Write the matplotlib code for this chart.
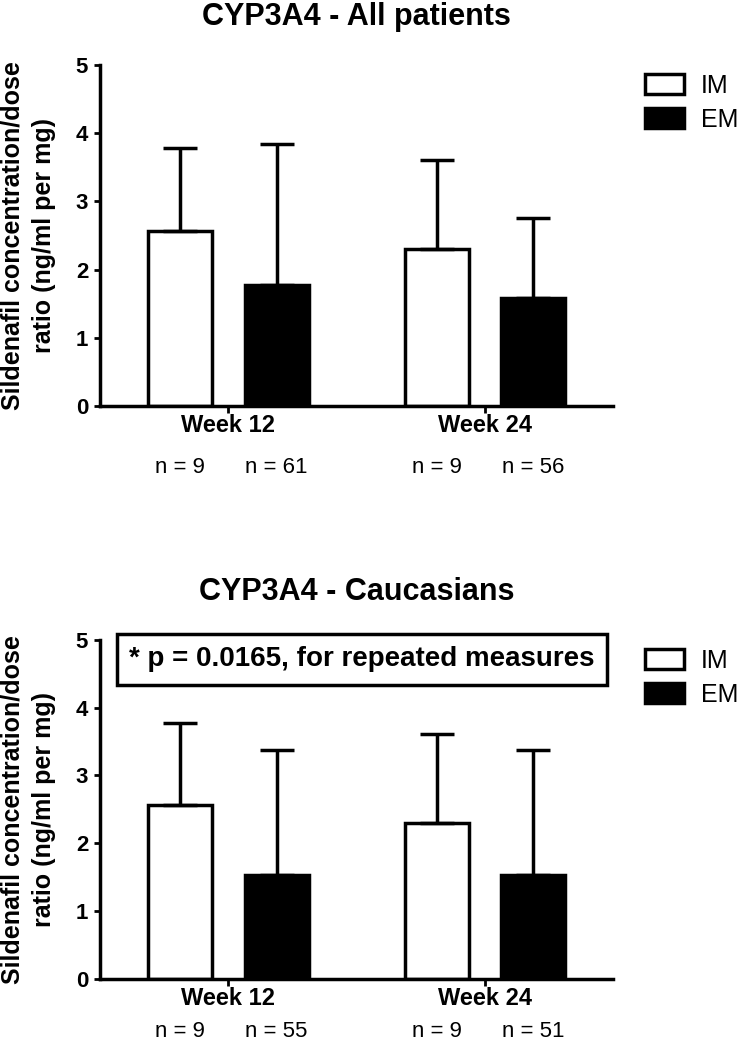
import matplotlib
matplotlib.use('Agg')
from matplotlib import pyplot as plt
from matplotlib.patches import Patch
from matplotlib.transforms import blended_transform_factory
import numpy as np

weeks = ['Week 12', 'Week 24']
groups = ['IM', 'EM']

# all patients
all_im_mean = [2.57, 2.30]
all_im_sd = [1.21, 1.31]
all_em_mean = [1.77, 1.58]
all_em_sd = [2.07, 1.17]
all_n_im = [9, 9]
all_n_em = [61, 56]

# caucasians
cau_im_mean = [2.57, 2.30]
cau_im_sd = [1.21, 1.31]
cau_em_mean = [1.53, 1.53]
cau_em_sd = [1.85, 1.85]
cau_n_im = [9, 9]
cau_n_em = [55, 51]

note = '* p = 0.0165, for repeated measures'
ylab = 'Sildenafil concentration/dose\nratio (ng/ml per mg)'

plt.rcParams['font.family'] = ['Liberation Sans', 'DejaVu Sans']
LW = 2.5


def panel(ax, title, im_mean, im_sd, em_mean, em_sd, n_im, n_em, n_y, txt=None):
    x = np.arange(len(weeks))
    off, w = 0.188, 0.25
    ekw = dict(elinewidth=LW, capthick=LW, capsize=12, ecolor='black')
    ax.bar(x - off, im_mean, w, color='white', edgecolor='black', linewidth=LW,
           yerr=[np.zeros(len(x)), im_sd], error_kw=ekw, label=groups[0])
    ax.bar(x + off, em_mean, w, color='black', edgecolor='black', linewidth=LW,
           yerr=[np.zeros(len(x)), em_sd], error_kw=ekw, label=groups[1])
    ax.set_xlim(-0.5, 1.5)
    ax.set_ylim(0, 5)
    ax.set_yticks(range(6))
    ax.set_xticks(x)
    ax.set_xticklabels(weeks, fontsize=17, fontweight='bold')
    for lab in ax.get_yticklabels():
        lab.set_fontsize(16)
        lab.set_fontweight('bold')
    for s in ['top', 'right']:
        ax.spines[s].set_visible(False)
    for s in ['left', 'bottom']:
        ax.spines[s].set_linewidth(LW)
    ax.tick_params(axis='y', direction='out', length=4.5, width=2, pad=4)
    ax.tick_params(axis='x', direction='out', length=5, width=2, pad=1)
    ax.set_title(title, fontsize=22, fontweight='bold', pad=29)
    tr = blended_transform_factory(ax.transData, ax.transAxes)
    for i in range(len(weeks)):
        ax.text(x[i] - off, n_y, f'n = {n_im[i]}', transform=tr,
                ha='center', va='center', fontsize=16)
        ax.text(x[i] + off, n_y, f'n = {n_em[i]}', transform=tr,
                ha='center', va='center', fontsize=16)
    handles = [Patch(facecolor='white', edgecolor='black', linewidth=LW, label=groups[0]),
               Patch(facecolor='black', edgecolor='black', linewidth=LW, label=groups[1])]
    ax.legend(handles=handles, loc='upper left', bbox_to_anchor=(1.062, 0.974),
              frameon=False, fontsize=18, borderpad=0, borderaxespad=0,
              handlelength=1.56, handleheight=0.84, handletextpad=0.68,
              labelspacing=0.4)
    if txt:
        ax.text(0.51, 0.943, txt, transform=ax.transAxes, ha='center', va='center',
                fontsize=20, fontweight='bold', clip_on=False,
                bbox=dict(boxstyle='square,pad=0.45', facecolor='white',
                          edgecolor='black', linewidth=LW))


fig = plt.figure(figsize=(7.44, 10.5), dpi=100)
ax1 = fig.add_axes([0.1344, 0.6133, 0.690, 0.3248])
ax2 = fig.add_axes([0.1344, 0.0680, 0.690, 0.3225])

panel(ax1, 'CYP3A4 - All patients', all_im_mean, all_im_sd, all_em_mean, all_em_sd,
      all_n_im, all_n_em, -0.179)
panel(ax2, 'CYP3A4 - Caucasians', cau_im_mean, cau_im_sd, cau_em_mean, cau_em_sd,
      cau_n_im, cau_n_em, -0.155, txt=note)

for ax in [ax1, ax2]:
    pos = ax.get_position()
    fig.text(0.038, pos.y0 + pos.height / 2, ylab, rotation=90, ha='center',
             va='center', multialignment='center', fontsize=18, fontweight='bold',
             linespacing=1.35)

fig.savefig('out.png', dpi=100)
